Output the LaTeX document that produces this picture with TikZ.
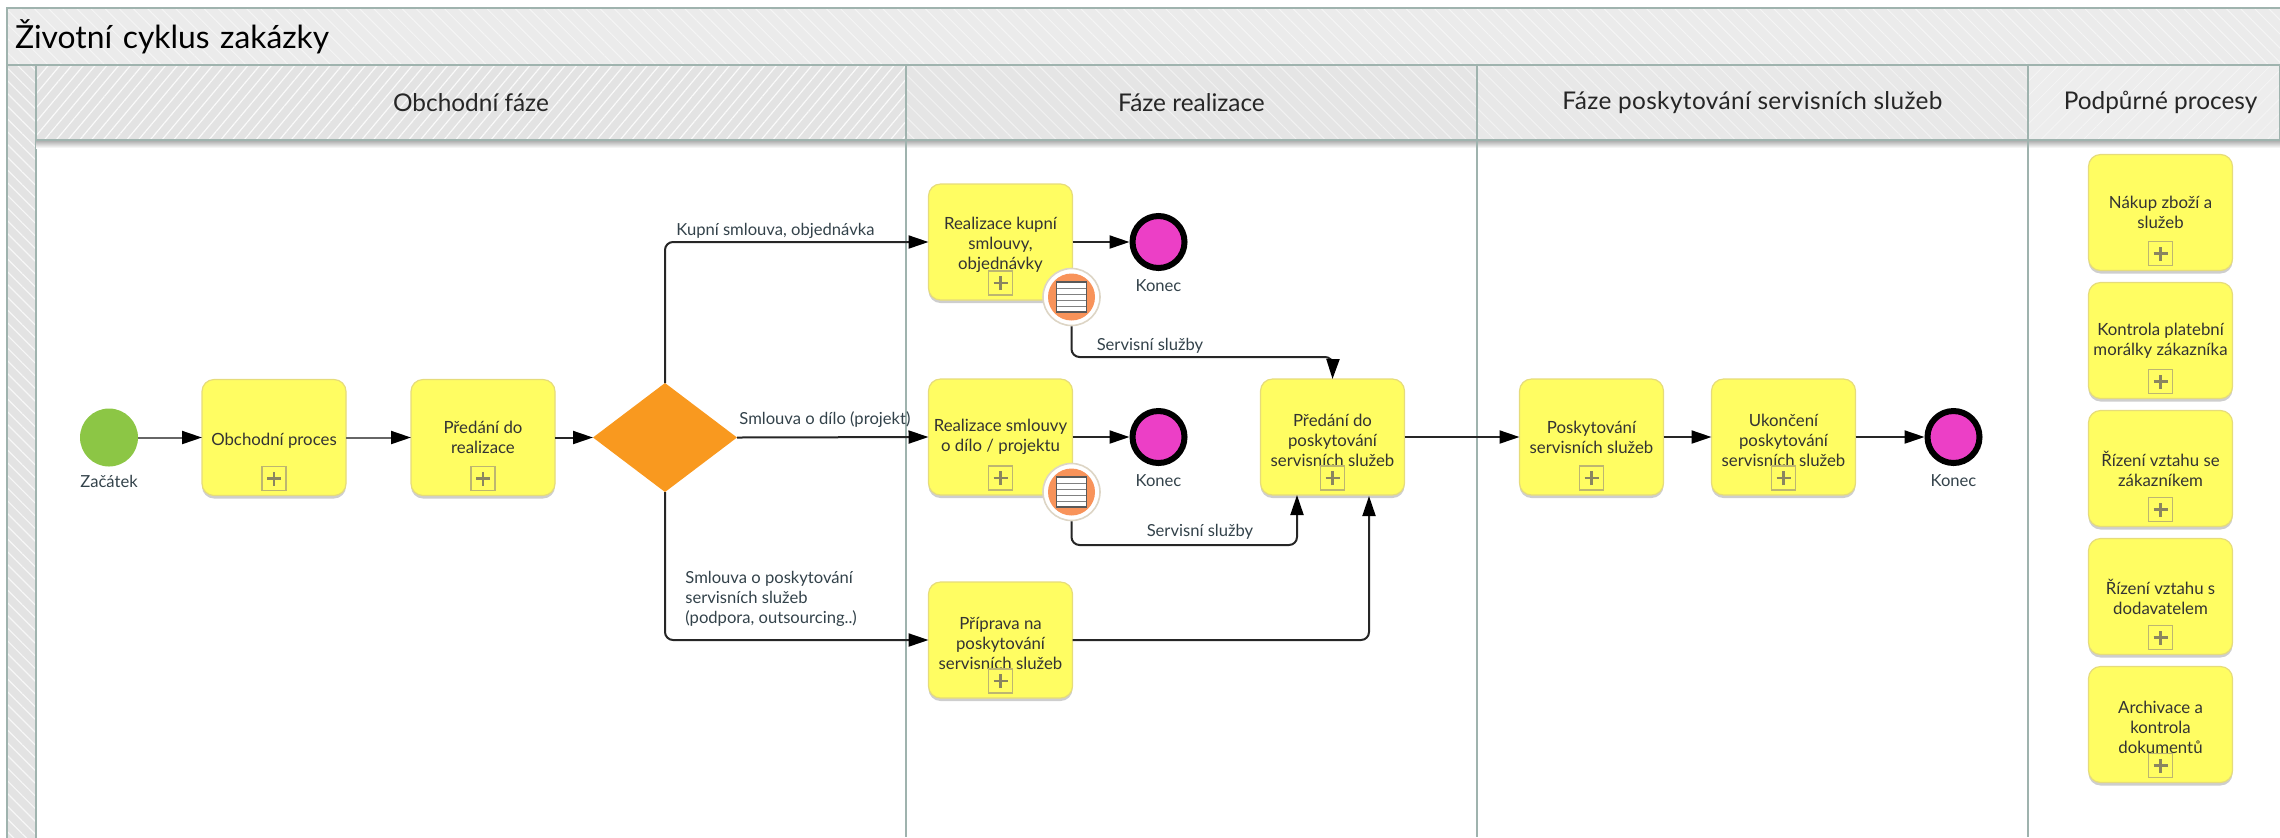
\documentclass[tikz,border=0pt]{standalone}
\usepackage{fontspec}
\setmainfont{Lato}
\usepackage{tikz}
\usetikzlibrary{positioning}
\usetikzlibrary{shapes.geometric}
\usetikzlibrary{arrows.meta}
\usetikzlibrary{patterns.meta}
\usetikzlibrary{shadows}
\definecolor{laneline}{HTML}{9FB3AE}
\definecolor{taskfill}{HTML}{FFFD62}
\definecolor{taskline}{HTML}{E6DC7A}
\definecolor{plusline}{HTML}{BDB670}
\definecolor{plusmark}{HTML}{8A8560}
\definecolor{startfill}{HTML}{8CC645}
\definecolor{endfill}{HTML}{EC3FC6}
\definecolor{gatefill}{HTML}{F9991F}
\definecolor{bndfill}{HTML}{F8935A}
\definecolor{bndline}{HTML}{DDD5C5}
\definecolor{labeltext}{HTML}{33424A}
\newcommand{\taskstrut}{\rule{0pt}{9.5pt}}
\begin{document}
\begin{tikzpicture}[x=0.5pt,y=-0.5pt]

        \tikzstyle{band} = [rectangle, draw=laneline, line width=1pt, outer sep=0pt, inner sep=0pt, text=black!85,
            font=\fontsize{12.2}{14}\selectfont]
        \tikzstyle{task} = [rectangle, rounded corners=6pt, fill=taskfill, draw=taskline, line width=.6pt, outer sep=0pt,
            inner sep=0pt, minimum width=72pt, minimum height=58pt, align=center, text=black!80,
            font=\fontsize{8.4}{10}\selectfont,
            drop shadow={shadow xshift=0pt, shadow yshift=-1.5pt, opacity=.35, fill=black!55}]
        \tikzstyle{plusbox} = [rectangle, draw=plusline, line width=.8pt, minimum size=12pt, inner sep=0pt,
            path picture={\draw[plusmark, line width=1.2pt] ([xshift=-3.5pt]path picture bounding box.center) -- ([xshift=3.5pt]path picture bounding box.center)
            ([yshift=-3.5pt]path picture bounding box.center) -- ([yshift=3.5pt]path picture bounding box.center);}]
        \tikzstyle{endevent} = [circle, fill=endfill, draw=black, line width=3pt, minimum size=26pt, inner sep=0pt, outer sep=1.5pt,
            drop shadow={shadow xshift=0pt, shadow yshift=-.5pt, opacity=.3, fill=black!50}]
        \tikzstyle{bndevent} = [circle, fill=white, draw=bndline, line width=.8pt, minimum size=28.5pt, inner sep=0pt, outer sep=.4pt]
        \tikzstyle{bndinner} = [circle, fill=bndfill, minimum size=23.5pt, inner sep=0pt]
        \tikzstyle{docicon} = [rectangle, fill=white, draw=black!65, line width=.8pt, minimum size=15pt, inner sep=0pt,
            path picture={\foreach \s in {-4.5,-1.5,1.5,4.5} \draw[black!50, line width=.45pt] ([yshift=\s pt]path picture bounding box.west) -- ([yshift=\s pt]path picture bounding box.east);}]
        \tikzstyle{flowlabel} = [inner sep=0pt, align=left, text=labeltext, font=\fontsize{8.3}{10}\selectfont]
        \tikzstyle{flow} = [-{Triangle[length=10pt,width=6.5pt,fill=black,color=black]}, line width=1pt, draw=black!85, rounded corners=4pt]
        \tikzstyle{flowgrey} = [-{Triangle[length=10pt,width=6.5pt,fill=black,color=black]}, line width=1pt, draw=black!60]

        \useasboundingbox (0,0) rectangle (2280,837);

        \node[band, anchor=north west, minimum width=1140pt, minimum height=28.5pt, text=black,
            pattern={Lines[angle=-45,distance=5pt,line width=.5pt]}, pattern color=black!4, preaction={fill=black!8},
            font=\fontsize{15.9}{18}\selectfont, text width=1132pt, align=left]   (titleband)  at (7,8)   {Životní cyklus zakázky};
        \node[band, anchor=north west, minimum width=14.5pt, minimum height=400pt,
            pattern={Lines[angle=-45,distance=4.5pt,line width=.6pt]}, pattern color=black!3, preaction={fill=black!11}] (sideband) at (7,65) {};
        \node[band, anchor=north west, minimum width=435pt, minimum height=37.5pt,
            pattern={Lines[angle=50,distance=4.5pt,line width=.6pt]}, pattern color=black!2, preaction={fill=black!11}]  (hObchod) at (36,65) {Obchodní fáze};
        \node[band, right=0pt of hObchod, minimum width=285.5pt, minimum height=37.5pt,
            pattern={Lines[angle=-45,distance=5pt,line width=.5pt]}, pattern color=black!5, preaction={fill=black!10}]   (hRealizace) {Fáze realizace};
        \node[band, right=0pt of hRealizace, minimum width=275.5pt, minimum height=37.5pt,
            font=\fontsize{12.2}{14}\selectfont\addfontfeature{LetterSpace=1.5},
            pattern={Lines[angle=-45,distance=5pt,line width=.5pt]}, pattern color=black!5, preaction={fill=black!9}]    (hServis) {Fáze poskytování servisních služeb};
        \node[band, right=0pt of hServis, minimum width=126pt, minimum height=37.5pt,
            pattern={Lines[angle=45,distance=5pt,line width=.4pt]}, pattern color=black!4, preaction={fill=black!7}]     (hPodpora) {\hspace*{6.5pt}Podpůrné procesy};

        \fill[top color=black!30, bottom color=white] (36,141) rectangle (2280,148);
        \coordinate (laneBottom) at (0,837);
        \draw[laneline, line width=1pt] (hObchod.south east)    -- (hObchod.south east |- laneBottom);
        \draw[laneline, line width=1pt] (hRealizace.south east) -- (hRealizace.south east |- laneBottom);
        \draw[laneline, line width=1pt] (hServis.south east)    -- (hServis.south east |- laneBottom);

        \node[circle, fill=startfill, minimum size=29pt, inner sep=0pt, outer sep=0pt] (start) at (109,437.5) {};
        \node[task, right=32pt of start]              (tObchod)     {\taskstrut Obchodní proces};
        \node[task, right=32.5pt of tObchod]          (tPredani)    {Předání do\\ realizace};
        \node[diamond, fill=gatefill, aspect=1.32, minimum width=72pt, minimum height=54.5pt, inner sep=0pt, outer sep=0pt,
            right=19pt of tPredani]                   (gate)        {};

        \node[task]                                   (tKupni) at (1000.5,242) {\taskstrut Realizace kupní\\ smlouvy,\\ objednávky};
        \node[task, below=39.5pt of tKupni]           (tDilo)       {Realizace smlouvy\\ o dílo / projektu};
        \node[task, below=43.5pt of tDilo]            (tPriprava)   {\taskstrut Příprava na\\ poskytování\\ servisních služeb};
        \node[task, right=94pt of tDilo]              (tServis)     {\taskstrut Předání do\\ poskytování\\ servisních služeb};
        \node[task, right=57.5pt of tServis]          (tPoskyt)     {Poskytování\\ servisních služeb};
        \node[task, right=24pt of tPoskyt]            (tUkonc)      {\taskstrut Ukončení\\ poskytování\\ servisních služeb};

        \node[endevent, right=28.5pt of tKupni]       (endKupni)    {};
        \node[endevent, right=28.5pt of tDilo]        (endDilo)     {};
        \node[endevent, right=34.5pt of tUkonc]       (endServis)   {};

        \node[task] (tNakup) at (2160.5,212.5)        {Nákup zboží a\\ služeb};
        \node[task, below=6pt of tNakup]              (tKontrola)   {Kontrola platební\\ morálky zákazníka};
        \node[task, below=6pt of tKontrola]           (tZakaznik)   {Řízení vztahu se\\ zákazníkem};
        \node[task, below=6pt of tZakaznik]           (tDodavatel)  {Řízení vztahu s\\ dodavatelem};
        \node[task, below=6pt of tDodavatel]          (tArchiv)     {\taskstrut Archivace a\\ kontrola\\ dokumentů};

        \foreach \t in {tObchod,tPredani,tKupni,tDilo,tPriprava,tServis,tPoskyt,tUkonc,tNakup,tKontrola,tZakaznik,tDodavatel,tArchiv}
            \node[plusbox] (plus\t) at ([yshift=8.5pt]\t.south) {};

        \foreach \b/\t in {bndKupni/tKupni,bndDilo/tDilo} {
            \node[bndevent] (\b) at ([xshift=-.5pt,yshift=1.5pt]\t.south east) {};
            \node[bndinner] (\b inner) at (\b) {};
            \node[docicon]  (\b doc) at (\b) {};
        }

        \node[flowlabel, below=4pt of start]     (lblStart)     {Začátek};
        \node[flowlabel, below=4pt of endKupni]  (lblEndKupni)  {Konec};
        \node[flowlabel, below=4pt of endDilo]   (lblEndDilo)   {Konec};
        \node[flowlabel, below=4pt of endServis] (lblEndServis) {Konec};
        \node[flowlabel, anchor=west] (lblKupni)  at (676,231)  {Kupní smlouva, objednávka};
        \node[flowlabel, anchor=west] (lblDilo)   at (739,420)  {Smlouva o dílo (projekt)};
        \node[flowlabel, anchor=west] (lblServ)   at (685,599)  {Smlouva o poskytování\\ servisních služeb\\ (podpora, outsourcing..)};
        \node[flowlabel] (lblServisA) at (1150,346) {Servisní služby};
        \node[flowlabel] (lblServisB) at (1200,532) {Servisní služby};

        \coordinate (cornerKupni) at (1333,357);
        \coordinate (cornerDilo)  at (1297,545);
        \coordinate (inPriprava)  at (1369,496);

        \draw[flowgrey] (start)    -- (tObchod);
        \draw[flowgrey] (tObchod)  -- (tPredani);
        \draw[flow] (tPredani)     -- (gate);
        \draw[flow] (gate.north)   |- (tKupni.west);
        \draw[flow] (gate.east)    -- (tDilo.west);
        \draw[flow] (gate.south)   |- (tPriprava.west);
        \draw[flow] (tKupni)       -- (endKupni);
        \draw[flow] (tDilo)        -- (endDilo);
        \draw[flow] (bndKupni.south) |- (cornerKupni) -- (tServis.north);
        \draw[flow] (bndDilo.south)  |- (cornerDilo) -- (cornerDilo |- tServis.south);
        \draw[flow] (tPriprava.east) -| (inPriprava);
        \draw[flow] (tServis)      -- (tPoskyt);
        \draw[flow] (tPoskyt)      -- (tUkonc);
        \draw[flow] (tUkonc)       -- (endServis);

\end{tikzpicture}
\end{document}
